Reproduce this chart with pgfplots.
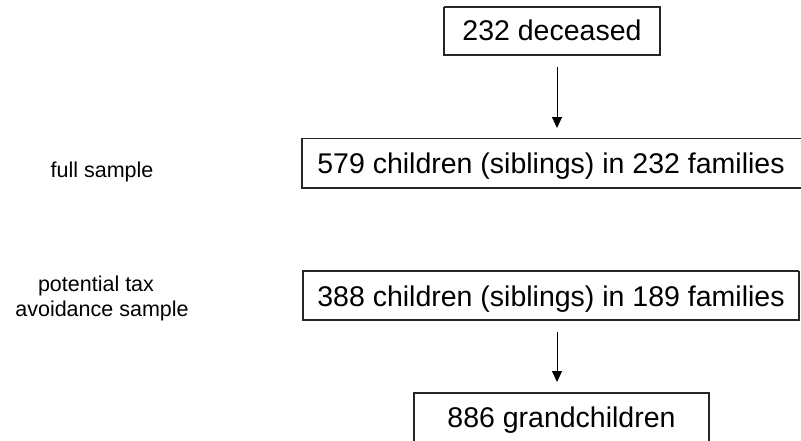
\documentclass[border=0pt]{standalone}
\usepackage{fontspec}
\setmainfont{Liberation Sans}
\usepackage{pgfplots}
\pgfplotsset{compat=1.18}
\usetikzlibrary{arrows.meta}
\begin{document}
\begin{tikzpicture}
\begin{axis}[
  width=801pt, height=440pt, scale only axis,
  xmin=0, xmax=801, ymin=0, ymax=440, y dir=reverse,
  hide axis, clip=true,
]
% boxes
\addplot[line width=1.1pt, black!85] coordinates {(444,7) (660,7) (660,55) (444,55) (444,7)};
\addplot[line width=1.1pt, black!85] coordinates {(806,138.5) (302,138.5) (302,188) (806,188)};
\addplot[line width=1.1pt, black!85] coordinates {(799,271) (303,271) (303,320) (799,320) (799,271)};
\addplot[line width=1.1pt, black!85] coordinates {(414,446) (414,393) (709,393) (709,446)};
% arrows
\addplot[line width=1pt, black, -{Triangle[length=11pt,width=10pt]}] coordinates {(557,67) (557,128)};
\addplot[line width=1pt, black, -{Triangle[length=11pt,width=10pt]}] coordinates {(557,332) (557,382)};
% box texts
\node[anchor=base, inner sep=0pt, font=\fontsize{28.5}{32}\selectfont] at (axis cs:552,40) {232 deceased};
\node[anchor=base, inner sep=0pt, font=\fontsize{28.5}{32}\selectfont] at (axis cs:551,173) {579 children (siblings) in 232 families};
\node[anchor=base, inner sep=0pt, font=\fontsize{28.5}{32}\selectfont] at (axis cs:551,306) {388 children (siblings) in 189 families};
\node[anchor=base, inner sep=0pt, font=\fontsize{28.5}{32}\selectfont] at (axis cs:561.5,427) {886 grandchildren};
% side labels
\node[anchor=base, inner sep=0pt, font=\fontsize{21.5}{25}\selectfont] at (axis cs:102,177) {full sample};
\node[anchor=base, inner sep=0pt, font=\fontsize{21.5}{25}\selectfont] at (axis cs:96,291) {potential tax};
\node[anchor=base, inner sep=0pt, font=\fontsize{21.5}{25}\selectfont] at (axis cs:102,316) {avoidance sample};
\end{axis}
\pgfresetboundingbox
\path (0,0) rectangle (801pt,440pt);
\end{tikzpicture}
\end{document}
